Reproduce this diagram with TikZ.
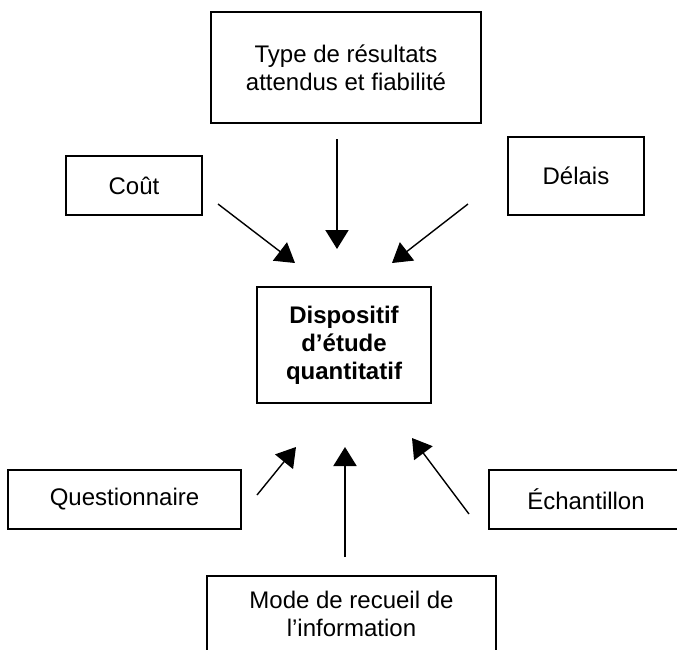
\documentclass[tikz,border=0pt]{standalone}
\usepackage{fontspec}
\setmainfont{Liberation Sans}
\usetikzlibrary{arrows.meta}
\begin{document}
\begin{tikzpicture}[x=0.5pt, y=-0.5pt, font=\fontsize{12}{14}\selectfont,
		box/.style={draw, line width=0.8pt, inner sep=0pt, align=center},
		fleche/.style={-{Triangle[length=9.5pt,width=11.5pt]}, line width=0.7pt}]
	\useasboundingbox (0,0) rectangle (677,650);
	\clip (0,0) rectangle (677,650);
	% les boites
	\node[box, minimum width=135pt, minimum height=55.5pt] (type) at (346,67.5) {Type de résultats\\attendus et fiabilité};
	\node[box, minimum width=68pt, minimum height=29.5pt] (cout) at (134,185.5) {Coût};
	\node[box, minimum width=68pt, minimum height=39pt] (delais) at (576,176) {Délais};
	\node[box, line width=1.3pt, minimum width=87pt, minimum height=58pt, font=\fontsize{12}{14}\selectfont\bfseries] (dispositif) at (344,345) {Dispositif\\d’étude\\quantitatif};
	\node[box, minimum width=116.5pt, minimum height=29.5pt] (quest) at (124.5,499.5) {Questionnaire};
	\node[box, minimum width=97pt, minimum height=29.5pt] (echant) at (586,499.5) {Échantillon};
	\node[box, minimum width=144.5pt, minimum height=38pt] (mode) at (351.5,614) {Mode de recueil de\\l’information};
	% extremites des fleches
	\coordinate (t1) at (337,139);   \coordinate (t2) at (337,249);
	\coordinate (c1) at (218,204);   \coordinate (c2) at (295,263);
	\coordinate (d1) at (468,204);   \coordinate (d2) at (392,263);
	\coordinate (q1) at (257,495);   \coordinate (q2) at (296,447);
	\coordinate (m1) at (345,557);   \coordinate (m2) at (345,447);
	\coordinate (e1) at (469,514);   \coordinate (e2) at (412,438);
	% les fleches
	\draw[fleche, line width=1pt] (t1) -- (t2);
	\draw[fleche] (c1) -- (c2);
	\draw[fleche] (d1) -- (d2);
	\draw[fleche] (q1) -- (q2);
	\draw[fleche, line width=1pt] (m1) -- (m2);
	\draw[fleche] (e1) -- (e2);
\end{tikzpicture}
\end{document}
